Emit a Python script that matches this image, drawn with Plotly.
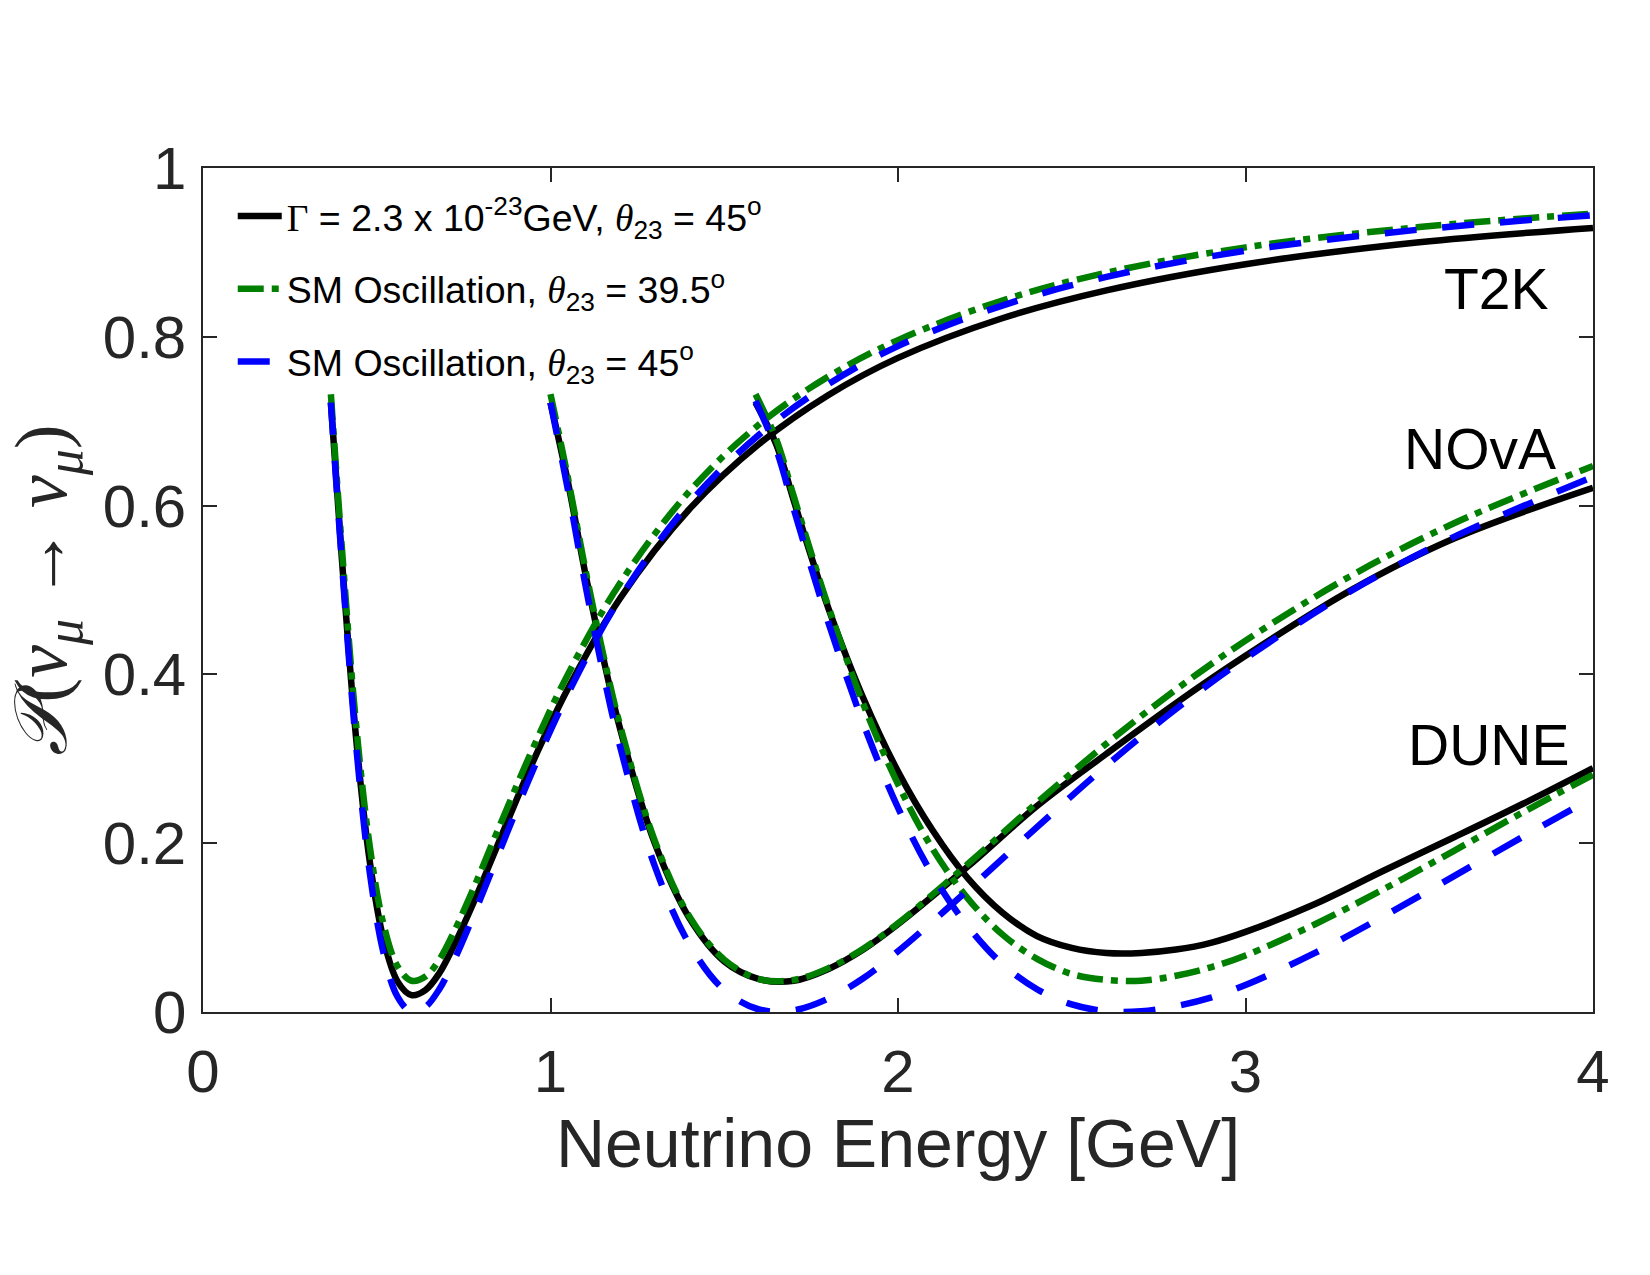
import plotly.graph_objects as go

# ---------------- data ----------------
E_t2k = [0.368, 0.40, 0.44, 0.48, 0.52, 0.56, 0.60, 0.64, 0.68, 0.72, 0.78, 0.85,
         0.95, 1.05, 1.2, 1.4, 1.6, 1.8, 2.0, 2.3, 2.6, 3.0, 3.5, 4.0]
t2k_decay = [0.722, 0.535, 0.327, 0.178, 0.085, 0.036, 0.020, 0.026, 0.046, 0.077, 0.131, 0.200,
             0.297, 0.383, 0.490, 0.596, 0.673, 0.731, 0.775, 0.822, 0.855, 0.886, 0.912, 0.929]
t2k_sm395 = [0.732, 0.548, 0.343, 0.196, 0.103, 0.054, 0.037, 0.042, 0.062, 0.093, 0.148, 0.217,
             0.313, 0.400, 0.508, 0.617, 0.696, 0.753, 0.796, 0.843, 0.876, 0.906, 0.930, 0.946]
t2k_sm45 = [0.722, 0.531, 0.319, 0.165, 0.069, 0.018, 0.000, 0.006, 0.027, 0.059, 0.116, 0.187,
            0.287, 0.377, 0.490, 0.603, 0.684, 0.744, 0.789, 0.837, 0.871, 0.902, 0.927, 0.944]

E_nova = [1.0, 1.05, 1.1, 1.15, 1.2, 1.3, 1.4, 1.5, 1.6, 1.7, 1.8, 1.9, 2.0, 2.2, 2.4,
          2.6, 2.8, 3.0, 3.3, 3.6, 4.0]
nova_decay = [0.722, 0.628, 0.520, 0.423, 0.336, 0.200, 0.111, 0.060, 0.039, 0.037, 0.051, 0.074,
              0.104, 0.172, 0.244, 0.306, 0.366, 0.422, 0.499, 0.561, 0.621]
nova_sm395 = [0.732, 0.633, 0.525, 0.427, 0.340, 0.203, 0.113, 0.062, 0.039, 0.038, 0.052, 0.075,
              0.105, 0.175, 0.248, 0.318, 0.382, 0.440, 0.516, 0.579, 0.647]
nova_sm45 = [0.722, 0.619, 0.507, 0.405, 0.315, 0.173, 0.080, 0.026, 0.003, 0.002, 0.016, 0.040,
             0.072, 0.144, 0.219, 0.292, 0.359, 0.419, 0.498, 0.563, 0.634]

E_dune = [1.59, 1.65, 1.7, 1.75, 1.8, 1.9, 2.0, 2.1, 2.2, 2.3, 2.4, 2.5, 2.6, 2.7, 2.8,
          2.9, 3.0, 3.2, 3.4, 3.6, 3.8, 4.0]
dune_decay = [0.722, 0.672, 0.606, 0.540, 0.478, 0.372, 0.285, 0.215, 0.159, 0.118, 0.090, 0.076,
              0.070, 0.070, 0.074, 0.082, 0.095, 0.128, 0.168, 0.207, 0.247, 0.289]
dune_sm395 = [0.732, 0.678, 0.611, 0.544, 0.480, 0.365, 0.270, 0.193, 0.135, 0.092, 0.063, 0.045,
              0.038, 0.037, 0.043, 0.053, 0.067, 0.104, 0.146, 0.191, 0.237, 0.281]
dune_sm45 = [0.724, 0.666, 0.596, 0.527, 0.461, 0.342, 0.242, 0.162, 0.102, 0.057, 0.027, 0.009,
             0.001, 0.001, 0.007, 0.017, 0.032, 0.070, 0.114, 0.161, 0.208, 0.254]

experiments = ["T2K", "NOvA", "DUNE"]
energies = [E_t2k, E_nova, E_dune]
decay_vals = [t2k_decay, nova_decay, dune_decay]
sm395_vals = [t2k_sm395, nova_sm395, dune_sm395]
sm45_vals = [t2k_sm45, nova_sm45, dune_sm45]

# experiment label positions (x right edge in GeV, y in probability)
label_x = [3.88, 3.90, 3.94]
label_y = [0.857, 0.667, 0.316]

tick_x = [0, 1, 2, 3, 4]
tick_y = [0, 0.2, 0.4, 0.6, 0.8, 1]
tick_y_text = ["0", "0.2", "0.4", "0.6", "0.8", "1"]

SANS = "Liberation Sans, Arial, sans-serif"
SERIF = "Liberation Serif, DejaVu Serif, serif"
name_decay = ("<span style=\"font-family:'Liberation Serif'\">Γ</span> = 2.3 x 10<sup>-23</sup>GeV, "
              "<span style=\"font-family:'Liberation Serif'\"><i>θ</i></span><sub>23</sub> = 45<sup>o</sup>")
name_sm395 = ("SM Oscillation, <span style=\"font-family:'Liberation Serif'\"><i>θ</i></span>"
              "<sub>23</sub> = 39.5<sup>o</sup>")
name_sm45 = ("SM Oscillation, <span style=\"font-family:'Liberation Serif'\"><i>θ</i></span>"
             "<sub>23</sub> = 45<sup>o</sup>")

styles = [
    (decay_vals, "#000000", "solid", name_decay, "k"),
    (sm395_vals, "#007F00", "26px,8px,7px,8px", name_sm395, "g"),
    (sm45_vals, "#0000FF", "32px,26px", name_sm45, "b"),
]

fig = go.Figure()
for vals, color, dash, name, grp in styles:
    for i, exp in enumerate(experiments):
        fig.add_trace(go.Scatter(
            x=energies[i], y=vals[i], mode="lines",
            line=dict(color=color, width=6.5, dash=dash, shape="spline", smoothing=1.0),
            name=name, legendgroup=grp, showlegend=(i == 0),
            hoverinfo="skip",
        ))

for i, exp in enumerate(experiments):
    fig.add_annotation(x=label_x[i], y=label_y[i], xref="x", yref="y", text=exp,
                       showarrow=False, xanchor="right", yanchor="middle",
                       font=dict(size=57, color="#000000", family=SANS))

axis_common = dict(
    showline=True, linecolor="#262626", linewidth=1.5, mirror="ticks",
    ticks="inside", ticklen=14, tickwidth=1.5, tickcolor="#262626",
    showgrid=False, zeroline=False,
    tickfont=dict(size=60, color="#262626", family=SANS),
)

fig.update_xaxes(range=[0, 4], tickvals=tick_x, ticktext=[str(v) for v in tick_x],
                 ticklabelstandoff=6,
                 title=dict(text="Neutrino Energy [GeV]", standoff=0,
                            font=dict(size=68, color="#262626", family=SANS)),
                 **axis_common)
fig.update_yaxes(range=[0, 1], tickvals=tick_y, ticktext=tick_y_text,
                 ticklabelstandoff=3,
                 title=dict(text="<i>𝒫</i>(<i>ν</i><sub><i>μ</i></sub> → <i>ν</i><sub><i>μ</i></sub>)",
                            standoff=12,
                            font=dict(size=74, color="#262626", family=SERIF)),
                 **axis_common)

fig.update_layout(
    width=1650, height=1275,
    margin=dict(l=203, r=57, t=168, b=263),
    plot_bgcolor="white", paper_bgcolor="white",
    showlegend=True,
    legend=dict(x=0.0214, y=0.9797, xanchor="left", yanchor="top",
                bgcolor="rgba(0,0,0,0)", borderwidth=0,
                font=dict(size=37.5, color="#000000", family=SANS),
                itemwidth=44, tracegroupgap=21, traceorder="grouped"),
)

fig.write_html("out.html")
